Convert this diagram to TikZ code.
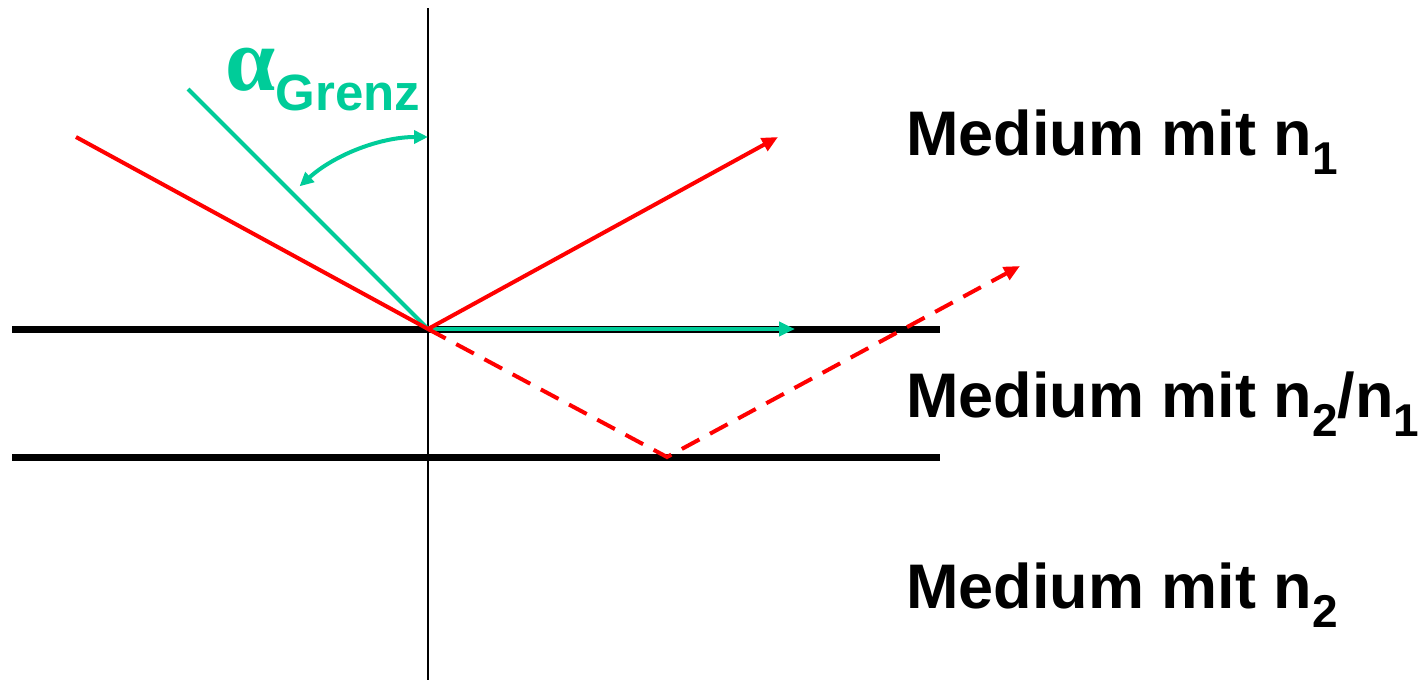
\documentclass[tikz,border=0pt]{standalone}
\usepackage{fontspec}
\setmainfont{Liberation Sans}
\newfontfamily\greekfont{Liberation Serif}
\usetikzlibrary{arrows.meta}
\definecolor{grn}{RGB}{0,204,153}
\newcommand\sbx[1]{\raisebox{-9.5pt}{\fontsize{23}{23}\selectfont #1}}
\begin{document}
\begin{tikzpicture}[x=0.5pt,y=-0.5pt,
  redray/.style={red,line width=2pt},
  greenray/.style={grn,line width=2pt},
  boundary/.style={black,line width=3.5pt},
  normalline/.style={black,line width=1pt},
  tip/.style={-{Triangle[length=8pt,width=7pt]}},
  medlabel/.style={anchor=base west,inner sep=0pt,font=\fontsize{31.5}{31.5}\selectfont\bfseries}]
\useasboundingbox (0,0) rectangle (1425,680);
% coordinates
\coordinate (O) at (428,329);
\coordinate (ntop) at (428,8);
\coordinate (nbot) at (428,680);
\coordinate (b1l) at (12,329);
\coordinate (b1r) at (940,329);
\coordinate (b2l) at (12,457);
\coordinate (b2r) at (940,457);
\coordinate (inc) at (76,137);
\coordinate (grenz) at (188,89);
\coordinate (refl) at (778,137);
\coordinate (surf) at (795,329);
\coordinate (bounce) at (667,457);
\coordinate (out) at (1020,266);
% boundaries and normal
\draw[boundary] (b1l) -- (b1r);
\draw[boundary] (b2l) -- (b2r);
\draw[normalline] (ntop) -- (nbot);
% rays
\draw[greenray] (grenz) -- (O);
\draw[greenray,line width=2.4pt,tip] (O) -- (surf);
\draw[redray] (inc) -- (O);
\draw[redray,tip] (O) -- (refl);
\draw[redray,dash pattern=on 10pt off 6pt,tip] (O) -- (bounce) -- (out);
% angle arc
\draw[grn,line width=2pt,{Triangle[length=7pt,width=6.5pt]}-{Triangle[length=7pt,width=6.5pt]}]
  ([shift={(-132:192)}]O) arc[start angle=-132,end angle=-90,radius=192];
% labels
\node[anchor=base west,inner sep=0pt,text=grn] (alpha) at (225,90)
  {{\greekfont\bfseries\fontsize{45}{45}\selectfont α}\raisebox{-10pt}{\fontsize{25.5}{25.5}\selectfont\bfseries Grenz}};
\node[medlabel] (m1) at (906,155) {Medium mit n\sbx{1}};
\node[medlabel] (m2) at (906,417) {Medium mit n\sbx{2}/n\sbx{1}};
\node[medlabel] (m3) at (906,608) {Medium mit n\sbx{2}};
\end{tikzpicture}
\end{document}
